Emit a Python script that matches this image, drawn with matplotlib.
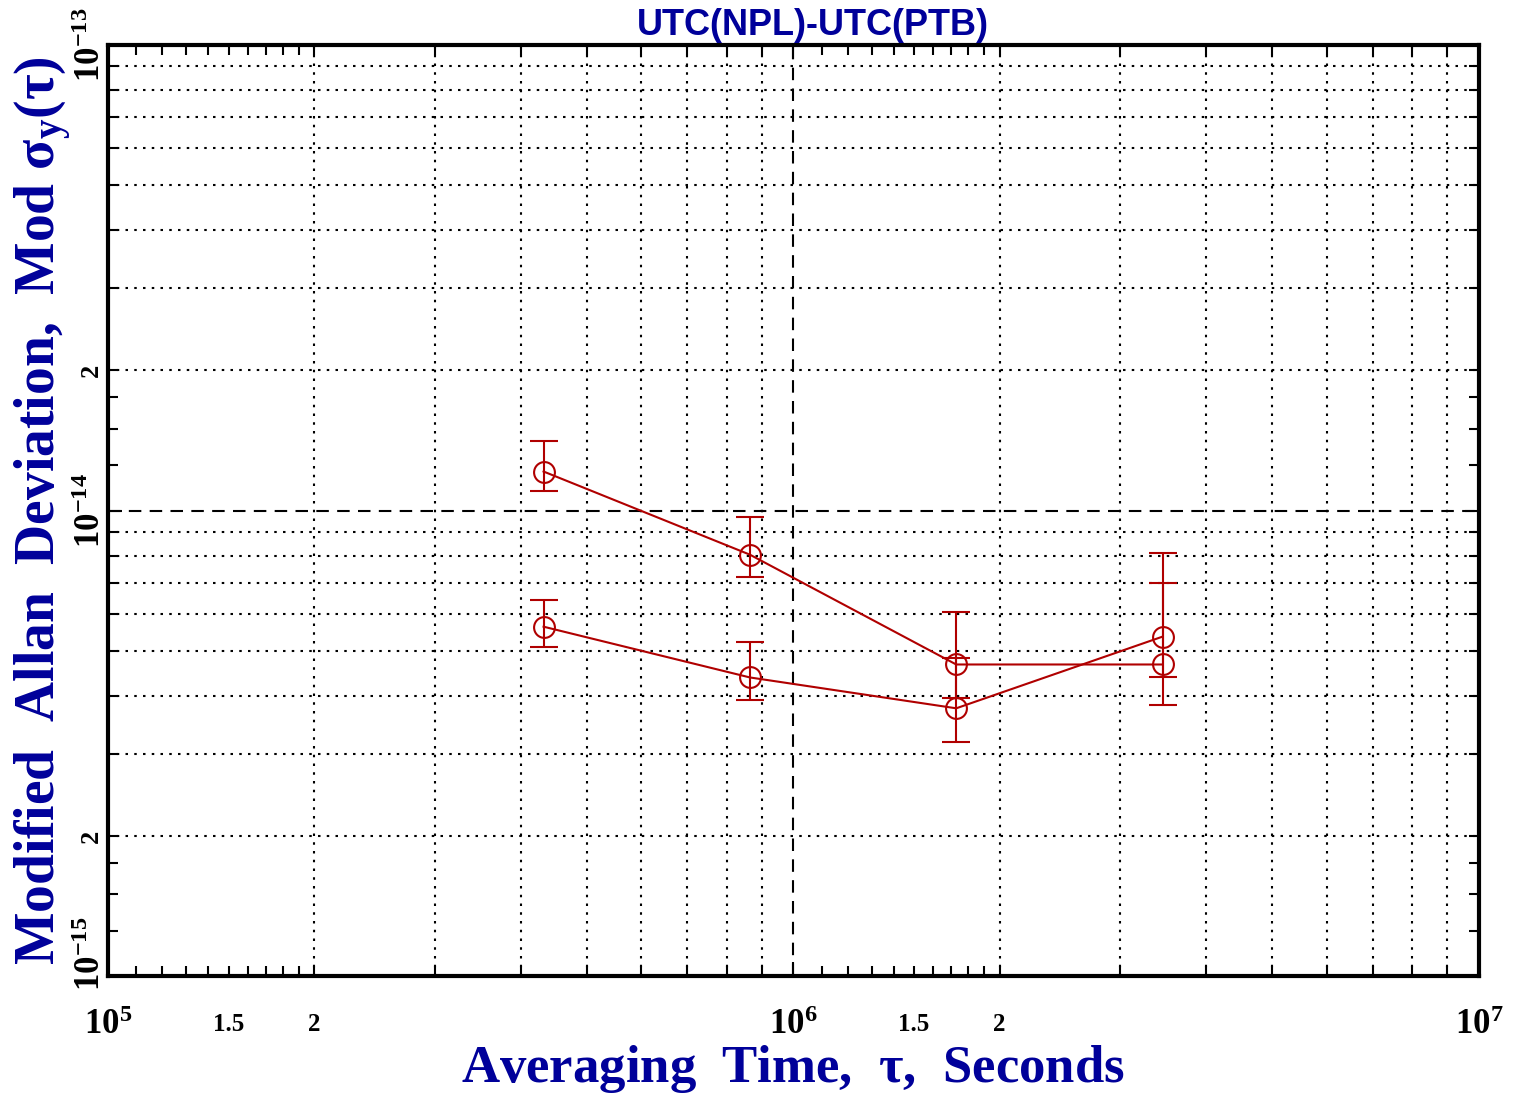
import numpy as np
import matplotlib
matplotlib.use("Agg")
import matplotlib.pyplot as plt
import matplotlib.transforms as mtransforms
from matplotlib.ticker import FixedLocator, NullFormatter

plt.rcParams['mathtext.fontset'] = 'custom'
plt.rcParams['mathtext.rm'] = 'Liberation Serif:bold'
plt.rcParams['mathtext.it'] = 'Liberation Serif:bold:italic'
plt.rcParams['mathtext.bf'] = 'Liberation Serif:bold'

# averaging times (s) and modified Allan deviation values
tau = [4.32e5, 8.64e5, 1.728e6, 3.456e6]

upper = [1.213e-14, 8.04e-15, 4.67e-15, 4.67e-15]
upper_hi = [1.414e-14, 9.71e-15, 6.04e-15, 7.00e-15]
upper_lo = [1.104e-14, 7.21e-15, 3.95e-15, 3.83e-15]

lower = [5.63e-15, 4.38e-15, 3.76e-15, 5.36e-15]
lower_hi = [6.41e-15, 5.21e-15, 4.83e-15, 8.12e-15]
lower_lo = [5.10e-15, 3.91e-15, 3.18e-15, 4.40e-15]

x_major = [1e5, 1e6, 1e7]
x_major_labels = ['$10^5$', '$10^6$', '$10^7$']
y_major = [1e-15, 1e-14, 1e-13]
y_major_labels = ['$10^{-15}$', '$10^{-14}$', '$10^{-13}$']

red = '#b00000'
blue = '#00009a'

fig = plt.figure(figsize=(15.13, 11), dpi=100)
ax = fig.add_axes([0.0714, 0.1127, 0.906, 0.8463])
ax.set_xscale('log')
ax.set_yscale('log')
ax.set_xlim(1e5, 1e7)
ax.set_ylim(1e-15, 1e-13)

# grid: dotted at 2..9, dashed at decades
for dec in [1e5, 1e6]:
    for m in range(2, 10):
        ax.axvline(m * dec, color='black', ls=(0, (1.2, 3)), lw=1.5, zorder=1)
for dec in [1e-15, 1e-14]:
    for m in range(2, 10):
        ax.axhline(m * dec, color='black', ls=(0, (1.2, 3)), lw=1.5, zorder=1)
ax.axvline(1e6, color='black', ls=(0, (6, 4)), lw=1.5, zorder=1)
ax.axhline(1e-14, color='black', ls=(0, (6, 4)), lw=1.5, zorder=1)

for y, hi, lo in [(upper, upper_hi, upper_lo), (lower, lower_hi, lower_lo)]:
    y = np.array(y)
    yerr = [y - np.array(lo), np.array(hi) - y]
    ax.errorbar(tau, y, yerr=yerr, color=red, lw=1.5, marker='o', mfc='none',
                mec=red, mew=1.5, ms=15, capsize=10, capthick=1.5, elinewidth=1.5, zorder=3)

# ticks
ax.xaxis.set_major_locator(FixedLocator(x_major))
ax.set_xticklabels(x_major_labels)
x_minor = []
for dec in [1e5, 1e6]:
    x_minor += [v * dec for v in np.arange(1.1, 2.0, 0.1)] + [m * dec for m in range(2, 10)]
ax.xaxis.set_minor_locator(FixedLocator(x_minor))
ax.xaxis.set_minor_formatter(NullFormatter())
for dec in [1e5, 1e6]:
    ax.text(1.5 * dec, -0.052, '1.5', transform=ax.get_xaxis_transform(), ha='center', va='center',
            fontsize=18, fontweight='bold', family='Liberation Serif')
    ax.text(2 * dec, -0.052, '2', transform=ax.get_xaxis_transform(), ha='center', va='center',
            fontsize=18, fontweight='bold', family='Liberation Serif')

ax.yaxis.set_major_locator(FixedLocator(y_major))
ax.set_yticklabels(y_major_labels, rotation=90, va='center')
y_minor = []
for dec in [1e-15, 1e-14]:
    y_minor += [1.25 * dec, 1.5 * dec, 1.75 * dec] + [m * dec for m in range(2, 10)]
ax.yaxis.set_minor_locator(FixedLocator(y_minor))
ax.yaxis.set_minor_formatter(NullFormatter())
for dec in [1e-15, 1e-14]:
    ax.text(-0.004, 2 * dec, '2', transform=ax.get_yaxis_transform(), ha='right', va='center',
            rotation=90, fontsize=19, fontweight='bold', family='Liberation Serif')

ax.tick_params(which='both', direction='in', top=True, right=True, width=1.5)
ax.tick_params(which='major', length=10)
ax.tick_params(which='minor', length=7)
ax.tick_params(axis='x', which='major', labelsize=25, pad=22)
ax.tick_params(axis='y', which='major', labelsize=25, pad=1)
for s in ax.spines.values():
    s.set_linewidth(3)

# lift the bottom y label a little, as in the original
bottom_lbl = ax.get_yticklabels()[0]
bottom_lbl.set_transform(bottom_lbl.get_transform() +
                         mtransforms.ScaledTranslation(0, 22 / 100, fig.dpi_scale_trans))

ax.set_title('UTC(NPL)-UTC(PTB)', color=blue, fontsize=26, fontweight='bold',
             family='Liberation Sans', pad=7, x=0.514)
ax.set_xlabel('Averaging  Time,  $\\mathrm{\\tau}$,  Seconds', color=blue, fontsize=38,
              fontweight='bold', family='Liberation Serif', labelpad=2)
ax.set_ylabel('Modified  Allan  Deviation,  Mod $\\mathrm{\\sigma_y(\\tau)}$', color=blue,
              fontsize=40, fontweight='bold', family='Liberation Serif', labelpad=-1)

fig.savefig('out.png', dpi=100)
